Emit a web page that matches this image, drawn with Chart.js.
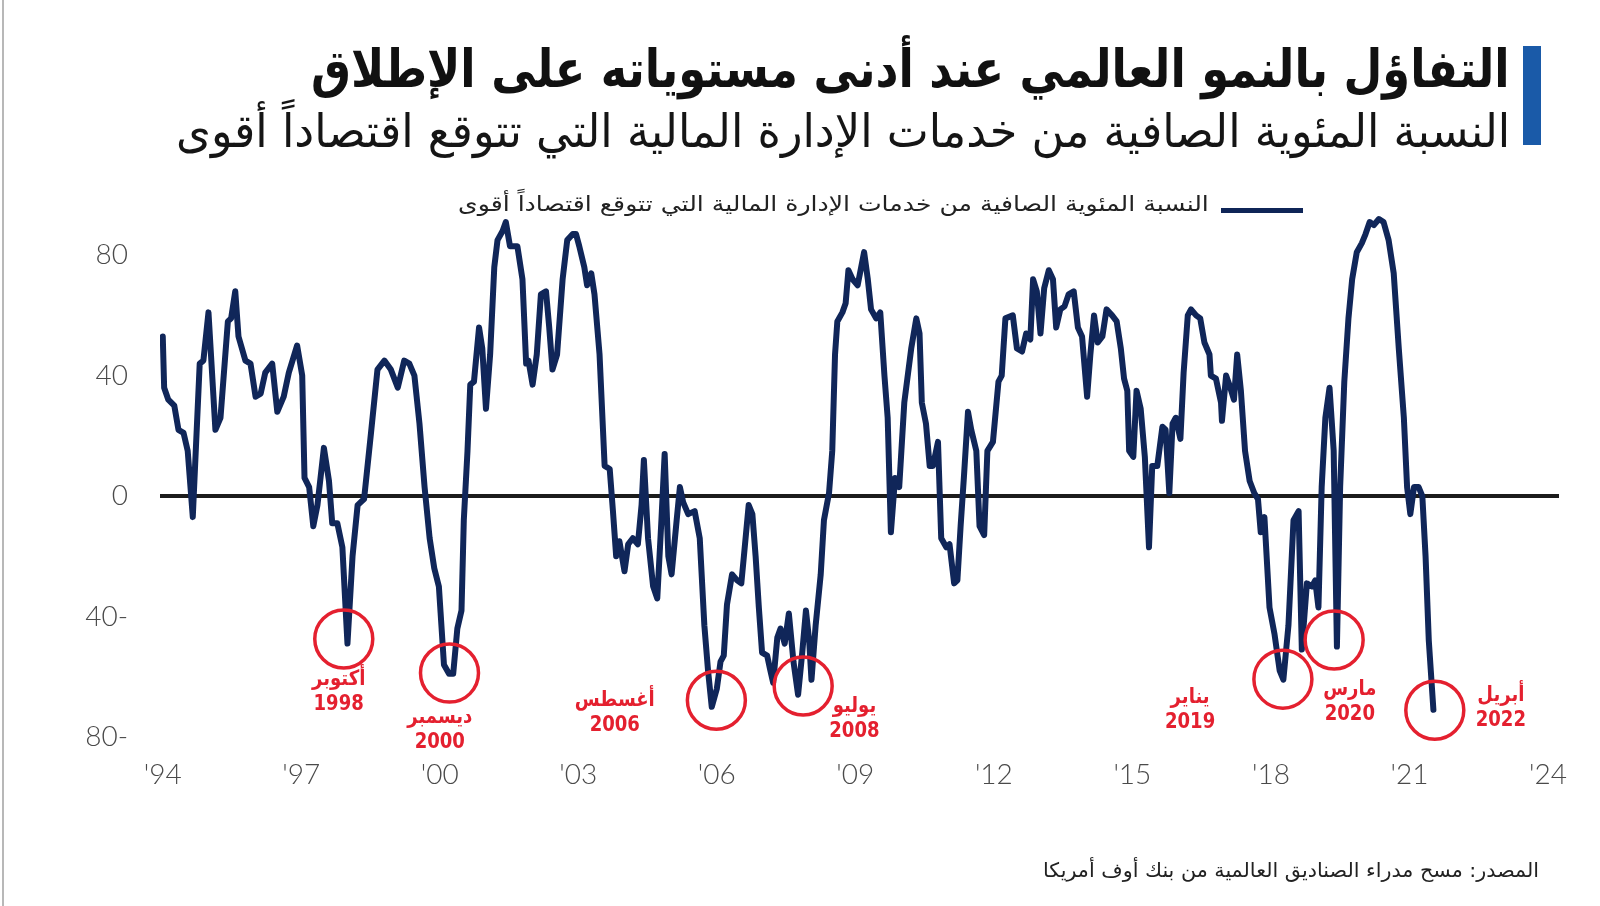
<!DOCTYPE html>
<html lang="ar">
<head>
<meta charset="utf-8">
<script src="https://cdn.jsdelivr.net/npm/chart.js@4.4.1/dist/chart.umd.min.js"></script>
<style>
  html, body { margin: 0; padding: 0; background: #fff; }
  #page { position: relative; width: 1600px; height: 906px; overflow: hidden; background: #fff; }
  #edge { position: absolute; left: 2px; top: 0; width: 2px; height: 906px; background: #b8b8b8; }
  canvas { position: absolute; left: 0; top: 0; }
  .txt { position: absolute; white-space: nowrap; direction: rtl; font-family: "DejaVu Sans", sans-serif; transform-origin: right center; }
  #title { right: 90px; top: 38px; font-size: 52px; line-height: 62px; font-weight: bold; color: #111; }
  #subtitle { right: 90px; top: 102px; font-size: 46px; line-height: 58px; color: #151515; }
  #legendText { right: 391px; top: 190px; font-size: 21px; line-height: 28px; color: #222; }
  #source { right: 61px; top: 857px; font-size: 20px; line-height: 26px; color: #222; }
  #bar { position: absolute; left: 1523px; top: 46px; width: 18px; height: 99px; background: #1a5aa8; }
  #legendLine { position: absolute; left: 1221px; top: 208px; width: 82px; height: 5px; background: #0f2557; }
</style>
</head>
<body>
<div id="page">
  <div id="edge"></div>
  <canvas id="chart" width="1600" height="906"></canvas>
  <div id="bar"></div>
  <div class="txt" id="title" data-w="1199">التفاؤل بالنمو العالمي عند أدنى مستوياته على الإطلاق</div>
  <div class="txt" id="subtitle" data-w="1334">النسبة المئوية الصافية من خدمات الإدارة المالية التي تتوقع اقتصاداً أقوى</div>
  <div id="legendLine"></div>
  <div class="txt" id="legendText" data-w="751">النسبة المئوية الصافية من خدمات الإدارة المالية التي تتوقع اقتصاداً أقوى</div>
  <div class="txt" id="source" data-w="496">المصدر: مسح مدراء الصناديق العالمية من بنك أوف أمريكا</div>
</div>
<script>
// --- data (decimal years, net %) ---
const years = [
  1994.00, 1994.03, 1994.12, 1994.25, 1994.34, 1994.45, 1994.54, 1994.65, 1994.80, 1994.88,
  1994.99, 1995.14, 1995.25, 1995.41, 1995.48, 1995.57, 1995.64, 1995.79, 1995.90, 1996.01,
  1996.12, 1996.22, 1996.37, 1996.48, 1996.62, 1996.73, 1996.91, 1997.02, 1997.07, 1997.17,
  1997.26, 1997.35, 1997.49, 1997.60, 1997.67, 1997.78, 1997.89, 1998.00, 1998.11, 1998.22,
  1998.36, 1998.51, 1998.65, 1998.80, 1998.94, 1999.09, 1999.23, 1999.34, 1999.45, 1999.56,
  1999.67, 1999.78, 1999.88, 1999.98, 2000.09, 2000.20, 2000.29, 2000.38, 2000.47, 2000.52,
  2000.60, 2000.66, 2000.74, 2000.85, 2000.92, 2001.00, 2001.09, 2001.18, 2001.25, 2001.36,
  2001.43, 2001.52, 2001.68, 2001.79, 2001.87, 2001.92, 2002.01, 2002.10, 2002.19, 2002.30,
  2002.37, 2002.44, 2002.54, 2002.66, 2002.76, 2002.88, 2002.95, 2003.02, 2003.13, 2003.19,
  2003.28, 2003.35, 2003.46, 2003.57, 2003.68, 2003.75, 2003.82, 2003.89, 2004.00, 2004.08,
  2004.18, 2004.29, 2004.37, 2004.42, 2004.51, 2004.62, 2004.71, 2004.80, 2004.87, 2004.95,
  2005.02, 2005.13, 2005.20, 2005.27, 2005.38, 2005.52, 2005.63, 2005.73, 2005.81, 2005.89,
  2006.00, 2006.08, 2006.15, 2006.22, 2006.33, 2006.44, 2006.53, 2006.58, 2006.69, 2006.77,
  2006.84, 2006.91, 2006.98, 2007.09, 2007.16, 2007.22, 2007.31, 2007.38, 2007.47, 2007.56,
  2007.66, 2007.76, 2007.85, 2007.93, 2008.00, 2008.05, 2008.14, 2008.25, 2008.32, 2008.43,
  2008.50, 2008.56, 2008.61, 2008.72, 2008.79, 2008.85, 2008.94, 2009.05, 2009.19, 2009.27,
  2009.34, 2009.45, 2009.54, 2009.63, 2009.70, 2009.77, 2009.86, 2009.95, 2010.06, 2010.21,
  2010.32, 2010.39, 2010.44, 2010.53, 2010.61, 2010.68, 2010.79, 2010.86, 2010.97, 2011.04,
  2011.14, 2011.21, 2011.28, 2011.35, 2011.44, 2011.51, 2011.62, 2011.69, 2011.79, 2011.86,
  2011.98, 2012.10, 2012.17, 2012.25, 2012.41, 2012.50, 2012.61, 2012.70, 2012.79, 2012.85,
  2012.93, 2013.01, 2013.09, 2013.19, 2013.28, 2013.35, 2013.44, 2013.53, 2013.62, 2013.73,
  2013.82, 2013.91, 2014.02, 2014.09, 2014.17, 2014.25, 2014.35, 2014.44, 2014.56, 2014.66,
  2014.75, 2014.82, 2014.89, 2014.93, 2015.02, 2015.09, 2015.18, 2015.27, 2015.36, 2015.43,
  2015.54, 2015.65, 2015.72, 2015.80, 2015.87, 2015.94, 2016.04, 2016.11, 2016.20, 2016.27,
  2016.38, 2016.47, 2016.56, 2016.67, 2016.70, 2016.81, 2016.92, 2016.94, 2017.03, 2017.10,
  2017.20, 2017.27, 2017.35, 2017.44, 2017.54, 2017.64, 2017.72, 2017.78, 2017.86, 2017.97,
  2018.08, 2018.19, 2018.27, 2018.38, 2018.49, 2018.60, 2018.67, 2018.78, 2018.89, 2018.96,
  2019.03, 2019.10, 2019.18, 2019.27, 2019.36, 2019.43, 2019.50, 2019.59, 2019.68, 2019.76,
  2019.86, 2019.97, 2020.05, 2020.14, 2020.23, 2020.34, 2020.44, 2020.55, 2020.66, 2020.77,
  2020.88, 2020.95, 2021.02, 2021.10, 2021.20, 2021.28, 2021.35, 2021.42, 2021.52
];
const values = [
  53, 36, 32, 30, 22, 21, 15, -7, 44, 45,
  61, 22, 26, 58, 59, 68, 53, 45, 44, 33,
  34, 41, 44, 28, 33, 41, 50, 40, 6, 3,
  -10, -3, 16, 5, -9, -9, -17, -49, -20, -3,
  -1, 21, 42, 45, 42, 36, 45, 44, 40, 24,
  3, -14, -24, -30, -56, -59, -59, -44, -38, -8,
  15, 37, 38, 56, 49, 29, 47, 76, 85, 88,
  91, 83, 83, 72, 44, 45, 37, 47, 67, 68,
  56, 42, 47, 72, 85, 87, 87, 83, 76, 70,
  74, 67, 47, 10, 9, -5, -20, -15, -25, -16,
  -14, -16, -3, 12, -14, -30, -34, -8, 14, -20,
  -26, -8, 3, -2, -6, -5, -14, -43, -58, -70,
  -64, -55, -53, -36, -26, -28, -29, -21, -3, -6,
  -20, -37, -52, -53, -58, -62, -47, -44, -49, -39,
  -55, -66, -52, -38, -48, -61, -43, -26, -8, 1,
  15, 47, 58, 61, 64, 75, 72, 70, 81, 72,
  62, 59, 61, 40, 26, -12, 6, 3, 31, 49,
  59, 54, 31, 24, 10, 10, 18, -14, -17, -16,
  -29, -28, -10, 6, 28, 22, 15, -10, -13, 15,
  18, 38, 40, 59, 60, 49, 48, 54, 52, 72,
  68, 54, 69, 75, 72, 56, 62, 63, 67, 68,
  56, 53, 33, 47, 60, 51, 53, 62, 60, 58,
  49, 39, 35, 15, 13, 35, 29, 13, -17, 10,
  10, 23, 22, 1, 24, 26, 19, 41, 60, 62,
  60, 59, 51, 47, 40, 39, 31, 25, 40, 37,
  32, 47, 35, 15, 5, 1, -1, -12, -7, -37,
  -46, -58, -61, -43, -8, -5, -51, -29, -30, -28,
  -37, 3, 26, 36, 15, -50, 3, 38, 59, 72,
  81, 84, 87, 91, 90, 92, 91, 85, 74, 49,
  26, 3, -6, 3, 3, 0, -20, -48, -71
];

const tickYears = [1994, 1997, 2000, 2003, 2006, 2009, 2012, 2015, 2018, 2021, 2024];
const tickLabels = ["'94", "'97", "'00", "'03", "'06", "'09", "'12", "'15", "'18", "'21", "'24"];
const yTicks = [-80, -40, 0, 40, 80];

// circled lows and their captions (data coordinates)
const lowYears = [1997.92, 2000.21, 2005.99, 2007.87, 2018.26, 2019.37, 2021.55];
const lowValues = [-47.5, -58.8, -67.8, -63.1, -60.8, -47.8, -71.1];
const captionYears = [1997.81, 2000.0, 2003.79, 2008.98, 2016.25, 2019.71, 2022.98];
const captionValues = [-60.8, -73.4, -67.8, -69.8, -66.8, -64.1, -66.4];
const captionMonths = ['أكتوبر', 'ديسمبر', 'أغسطس', 'يوليو', 'يناير', 'مارس', 'أبريل'];
const captionYearText = ['1998', '2000', '2006', '2008', '2019', '2020', '2022'];

const NAVY = '#102659';
const RED = '#e4202f';

// ring + caption for each low
const lowsPlugin = {
  id: 'lows',
  afterDatasetsDraw(chart) {
    const { ctx, scales: { x, y } } = chart;
    ctx.save();
    ctx.strokeStyle = RED;
    ctx.lineWidth = 3.5;
    lowYears.forEach((yr, i) => {
      ctx.beginPath();
      ctx.arc(x.getPixelForValue(yr), y.getPixelForValue(lowValues[i]), 29, 0, Math.PI * 2);
      ctx.stroke();
    });
    ctx.fillStyle = RED;
    ctx.textAlign = 'center';
    ctx.textBaseline = 'middle';
    ctx.font = 'bold 21px "DejaVu Sans", sans-serif';
    captionYears.forEach((yr, i) => {
      const px = x.getPixelForValue(yr);
      const py = y.getPixelForValue(captionValues[i]);
      ctx.save();
      ctx.translate(px, py);
      ctx.scale(0.86, 1);
      ctx.direction = 'rtl';
      ctx.fillText(captionMonths[i], 0, 0);
      ctx.direction = 'ltr';
      ctx.fillText(captionYearText[i], 0, 25);
      ctx.restore();
    });
    ctx.restore();
  }
};

const ctx = document.getElementById('chart').getContext('2d');
new Chart(ctx, {
  type: 'line',
  data: {
    datasets: [{
      label: 'net',
      data: years.map((yr, i) => ({ x: yr, y: values[i] })),
      borderColor: NAVY,
      borderWidth: 6,
      pointRadius: 0,
      tension: 0,
      borderJoinStyle: 'round',
      borderCapStyle: 'round'
    }]
  },
  options: {
    responsive: false,
    animation: false,
    layout: { padding: { left: 0, right: 41, top: 210, bottom: 94 } },
    plugins: { legend: { display: false }, tooltip: { enabled: false } },
    scales: {
      x: {
        type: 'linear',
        min: 1993.94,
        max: 2024.24,
        afterBuildTicks: (scale) => { scale.ticks = tickYears.map(v => ({ value: v })); },
        afterFit: (scale) => { scale.height = 60; },
        ticks: {
          padding: -2,
          color: '#4a4a4a',
          font: { family: 'Lato', size: 28, weight: '300' },
          maxRotation: 0,
          callback: (v) => tickLabels[tickYears.indexOf(v)]
        },
        grid: { display: false },
        border: { display: false }
      },
      y: {
        min: -85,
        max: 95,
        afterBuildTicks: (scale) => { scale.ticks = yTicks.map(v => ({ value: v })); },
        afterFit: (scale) => { scale.width = 160; },
        ticks: {
          padding: 32,
          color: '#4a4a4a',
          font: { family: 'Lato', size: 28, weight: '300' },
          callback: (v) => v < 0 ? Math.abs(v) + '-' : String(v)
        },
        grid: {
          drawTicks: false,
          color: (c) => c.tick && c.tick.value === 0 ? '#1c1c1c' : 'rgba(0,0,0,0)',
          lineWidth: (c) => c.tick && c.tick.value === 0 ? 4 : 0
        },
        border: { display: false }
      }
    }
  },
  plugins: [lowsPlugin]
});

// squeeze the Arabic text blocks to the widths they take in the picture
document.querySelectorAll('.txt').forEach(el => {
  const target = parseFloat(el.dataset.w);
  el.style.transform = 'scaleX(' + (target / el.offsetWidth) + ')';
});
</script>
</body>
</html>
